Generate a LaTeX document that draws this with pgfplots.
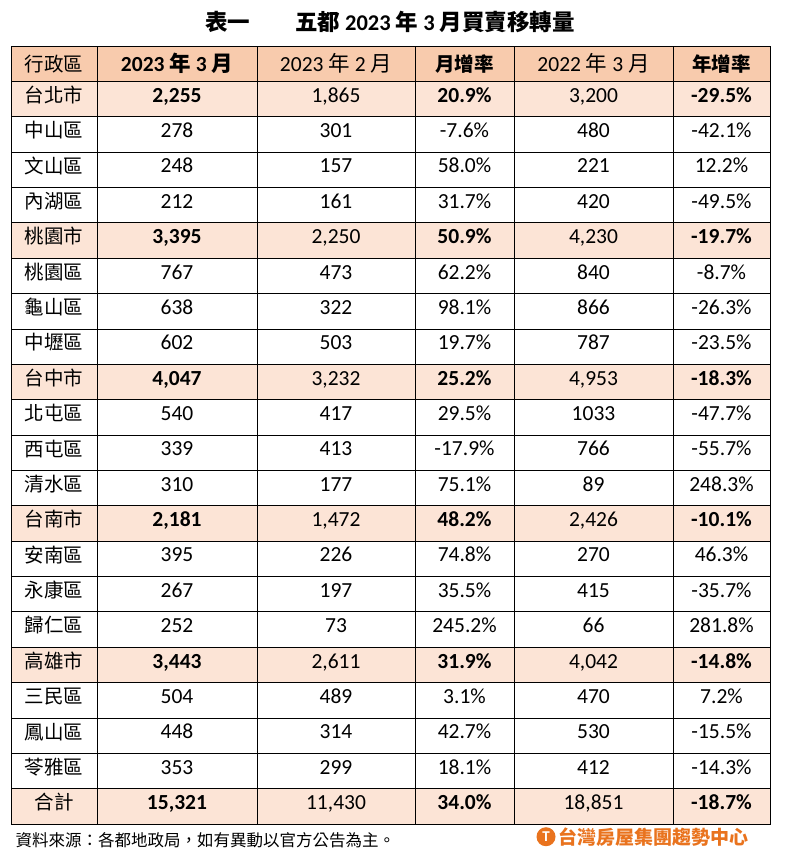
\documentclass[border=0pt]{standalone}
\usepackage{pgfplots}
\usepackage{pgfplotstable}
\pgfplotsset{compat=1.18}
\usepackage{fontspec}
\setmainfont{Carlito}
\newfontfamily\cjk{Noto Sans CJK TC}
\definecolor{hdr}{HTML}{F8CBAD}
\definecolor{lite}{HTML}{FCE4D6}
\definecolor{logo}{HTML}{E9731E}

\pgfplotstableread{
row name a b c d e
1 台北市 2,255 1,865 20.9 3,200 -29.5
5 桃園市 3,395 2,250 50.9 4,230 -19.7
9 台中市 4,047 3,232 25.2 4,953 -18.3
13 台南市 2,181 1,472 48.2 2,426 -10.1
17 高雄市 3,443 2,611 31.9 4,042 -14.8
21 合計 15,321 11,430 34.0 18,851 -18.7
}\cities

\pgfplotstableread{
row name a b c d e
2 中山區 278 301 -7.6 480 -42.1
3 文山區 248 157 58.0 221 12.2
4 內湖區 212 161 31.7 420 -49.5
6 桃園區 767 473 62.2 840 -8.7
7 龜山區 638 322 98.1 866 -26.3
8 中壢區 602 503 19.7 787 -23.5
10 北屯區 540 417 29.5 1033 -47.7
11 西屯區 339 413 -17.9 766 -55.7
12 清水區 310 177 75.1 89 248.3
14 安南區 395 226 74.8 270 46.3
15 永康區 267 197 35.5 415 -35.7
16 歸仁區 252 73 245.2 66 281.8
18 三民區 504 489 3.1 470 7.2
19 鳳山區 448 314 42.7 530 -15.5
20 苓雅區 353 299 18.1 412 -14.3
}\dists

\newcommand\numfont{\fontsize{21.5}{24}\selectfont}
\newcommand\cjkfont{\fontsize{19.5}{24}\selectfont\cjk}

\pgfplotsset{
  cell/.style={only marks, mark=*, mark size=0pt, mark options={draw=none,fill=none},
    point meta=explicit symbolic, nodes near coords align={center},
    nodes near coords={\pgfplotspointmeta},
    every node near coord/.append style={anchor=center, inner sep=0pt, text height=0.68em, text depth=0.05em, font=\numfont}},
  pct/.style={nodes near coords={\pgfplotspointmeta\%}},
  bold/.style={every node near coord/.append style={font=\numfont\bfseries}},
  name/.style={every node near coord/.append style={font=\cjkfont, text height=0.8em, text depth=0.12em}},
}

\begin{document}
\begin{tikzpicture}
\begin{axis}[
  width=759pt, height=778pt, scale only axis,
  xmin=11, xmax=770, ymin=0, ymax=22, y dir=reverse,
  xtick={97,257,415,514,673}, ytick={1,...,21},
  xticklabels={}, yticklabels={}, major tick length=0pt,
  grid=major, grid style={black, line width=0.8pt},
  axis line style={black, line width=0.8pt},
  axis on top, clip=false,
]
% bounding box of the whole picture
\path (axis cs:0,-1.3008) rectangle (axis cs:788,23.131);
% backgrounds
\fill[hdr] (axis cs:11,0) rectangle (axis cs:770,1);
\foreach \r in {1,5,9,13,17,21}{
  \edef\tmp{\noexpand\fill[lite] (axis cs:11,\r) rectangle (axis cs:770,\r+1);}\tmp
}
% header
\node[font=\cjkfont] at (axis cs:54,0.5) {行政區};
\node[font=\numfont\bfseries] at (axis cs:177,0.5) {2023 {\cjk 年} 3 {\cjk 月}};
\node[font=\numfont] at (axis cs:336,0.5) {2023 {\cjk 年} 2 {\cjk 月}};
\node[font=\cjkfont\bfseries] at (axis cs:464.5,0.5) {月增率};
\node[font=\numfont] at (axis cs:593.5,0.5) {2022 {\cjk 年} 3 {\cjk 月}};
\node[font=\cjkfont\bfseries] at (axis cs:721.5,0.5) {年增率};
% city rows
\addplot[cell, name] table[x expr=54, y expr=\thisrow{row}+0.5, meta=name] {\cities};
\addplot[cell, bold] table[x expr=177, y expr=\thisrow{row}+0.5, meta=a] {\cities};
\addplot[cell] table[x expr=336, y expr=\thisrow{row}+0.5, meta=b] {\cities};
\addplot[cell, pct, bold] table[x expr=464.5, y expr=\thisrow{row}+0.5, meta=c] {\cities};
\addplot[cell] table[x expr=593.5, y expr=\thisrow{row}+0.5, meta=d] {\cities};
\addplot[cell, pct, bold] table[x expr=721.5, y expr=\thisrow{row}+0.5, meta=e] {\cities};
% district rows
\addplot[cell, name] table[x expr=54, y expr=\thisrow{row}+0.5, meta=name] {\dists};
\addplot[cell] table[x expr=177, y expr=\thisrow{row}+0.5, meta=a] {\dists};
\addplot[cell] table[x expr=336, y expr=\thisrow{row}+0.5, meta=b] {\dists};
\addplot[cell, pct] table[x expr=464.5, y expr=\thisrow{row}+0.5, meta=c] {\dists};
\addplot[cell] table[x expr=593.5, y expr=\thisrow{row}+0.5, meta=d] {\dists};
\addplot[cell, pct] table[x expr=721.5, y expr=\thisrow{row}+0.5, meta=e] {\dists};
% title
\node[font=\fontsize{22.5}{26}\selectfont\bfseries] at (axis cs:390,-0.68) {{\cjk 表一　　五都} 2023 {\cjk 年} 3 {\cjk 月買賣移轉量}};
% footer
\node[anchor=west, font=\fontsize{16.5}{20}\selectfont\cjk] at (axis cs:12,22.45) {資料來源：各都地政局，如有異動以官方公告為主。};
\node[circle, fill=logo, inner sep=0pt, minimum size=19pt, text=white, font=\fontsize{15}{16}\selectfont\bfseries] at (axis cs:546,22.36) {T};
\node[anchor=west, text=logo, font=\fontsize{19}{22}\selectfont\cjk\bfseries, inner sep=0pt] at (axis cs:558,22.36) {台灣房屋集團趨勢中心};
\end{axis}
\end{tikzpicture}
\end{document}
